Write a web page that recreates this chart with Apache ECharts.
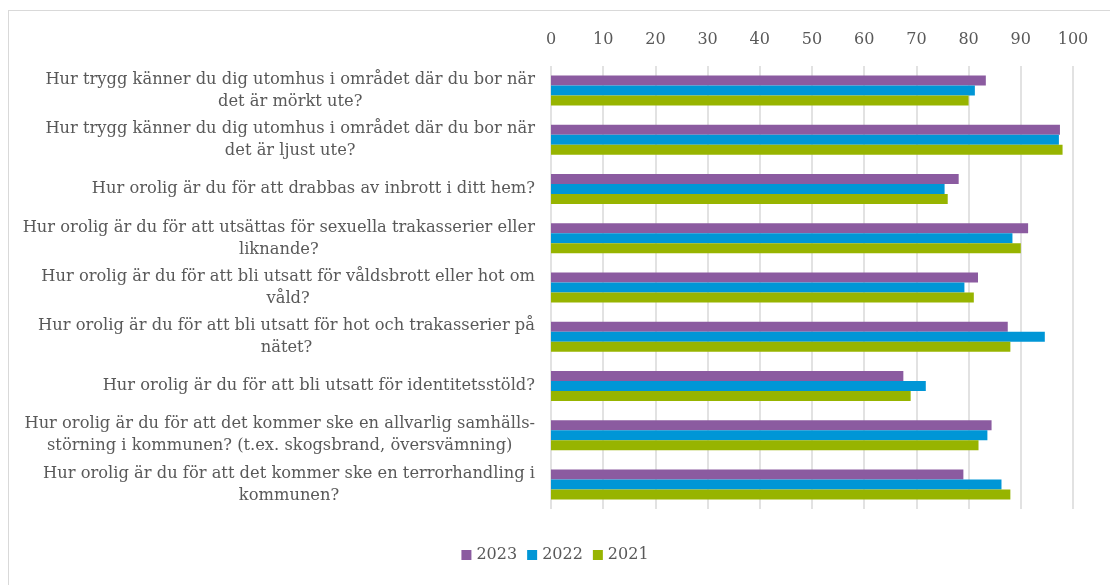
<!DOCTYPE html>
<html>
<head>
<meta charset="utf-8">
<script src="https://cdn.jsdelivr.net/npm/echarts@6/dist/echarts.min.js"></script>
<style>
    html, body { margin: 0; padding: 0; background: #fff; }
    #frame {
        position: absolute; left: 8px; top: 10px;
        width: 1110px; height: 585px;
        border: 1px solid #d9d9d9; box-sizing: border-box;
    }
    #bar-chart { position: absolute; left: 0; top: 0; width: 1110px; height: 585px; }
</style>
</head>
<body>
<div id="frame"></div>
<div id="bar-chart"></div>
<script>
    // frågor, uppifrån och ned
    var categories = [
        "Hur trygg känner du dig utomhus i området där du bor när\ndet är mörkt ute?",
        "Hur trygg känner du dig utomhus i området där du bor när\ndet är ljust ute?",
        "Hur orolig är du för att drabbas av inbrott i ditt hem?",
        "Hur orolig är du för att utsättas för sexuella trakasserier eller\nliknande?",
        "Hur orolig är du för att bli utsatt för våldsbrott eller hot om\nvåld?",
        "Hur orolig är du för att bli utsatt för hot och trakasserier på\nnätet?",
        "Hur orolig är du för att bli utsatt för identitetsstöld?",
        "Hur orolig är du för att det kommer ske en allvarlig samhälls-\nstörning i kommunen? (t.ex. skogsbrand, översvämning)",
        "Hur orolig är du för att det kommer ske en terrorhandling i\nkommunen?"
    ];
    var values2023 = [83.3, 97.5, 78.1, 91.4, 81.8, 87.5, 67.5, 84.4, 79.0];
    var values2022 = [81.2, 97.3, 75.4, 88.4, 79.2, 94.6, 71.8, 83.6, 86.3];
    var values2021 = [80.0, 98.0, 76.0, 90.0, 81.0, 88.0, 68.9, 81.9, 88.0];
    var xTicks = [0, 10, 20, 30, 40, 50, 60, 70, 80, 90, 100];

    var font = "'DejaVu Serif', 'Liberation Serif', serif";
    var textColor = "#595959";

    var myChart = echarts.init(document.getElementById("bar-chart"));

    function makeSeries(name, data, color) {
        return {
            name: name,
            type: 'bar',
            data: data,
            barGap: '0%',
            barCategoryGap: '39%',
            itemStyle: { color: color }
        };
    }

    var options = {
        textStyle: { fontFamily: font },
        grid: { left: 551, right: 37, top: 66, bottom: 76 },
        legend: {
            bottom: 17,
            left: 'center',
            itemWidth: 10,
            itemHeight: 10,
            itemGap: 10,
            icon: 'rect',
            textStyle: { color: textColor, fontSize: 16, fontFamily: font },
            data: ['2023', '2022', '2021']
        },
        xAxis: {
            type: 'value',
            position: 'top',
            min: xTicks[0],
            max: xTicks[xTicks.length - 1],
            interval: 10,
            axisLine: { show: false },
            axisTick: { show: false },
            splitLine: { lineStyle: { color: '#d9d9d9', width: 1.5 } },
            axisLabel: {
                color: textColor,
                fontSize: 16,
                fontFamily: font,
                margin: 18
            }
        },
        yAxis: {
            type: 'category',
            inverse: true,
            data: categories,
            axisLine: { show: false },
            axisTick: { show: false },
            axisLabel: {
                margin: 16,
                align: 'right',
                formatter: function (v) {
                    return v.split("\n").map(function (l) { return "{c|" + l + "}"; }).join("\n");
                },
                rich: {
                    c: {
                        align: 'center',
                        color: textColor,
                        fontSize: 16.3,
                        lineHeight: 22,
                        fontFamily: font
                    }
                }
            }
        },
        series: [
            makeSeries('2023', values2023, '#8b5ba0'),
            makeSeries('2022', values2022, '#0096d6'),
            makeSeries('2021', values2021, '#97b400')
        ]
    };
    myChart.setOption(options);
</script>
</body>
</html>
